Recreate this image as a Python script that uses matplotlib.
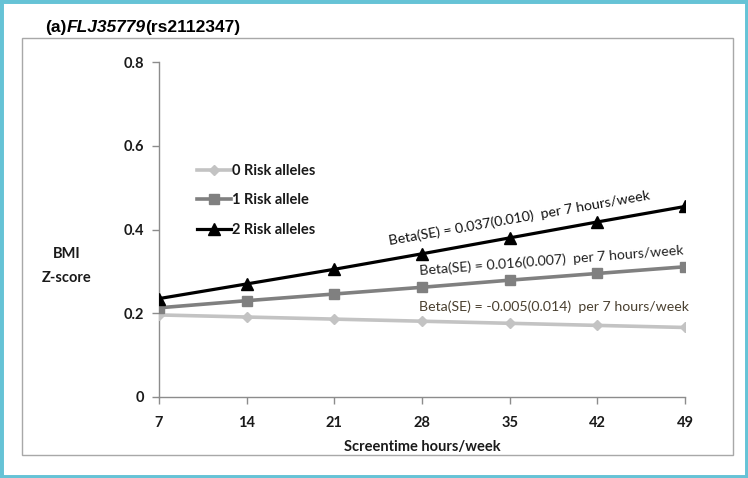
import numpy as np
import matplotlib
matplotlib.use("Agg")
import matplotlib.pyplot as plt
from matplotlib.patches import Rectangle

hours = [7, 14, 21, 28, 35, 42, 49]
risk0 = [0.196, 0.191, 0.186, 0.181, 0.176, 0.171, 0.166]
risk1 = [0.213, 0.230, 0.246, 0.262, 0.279, 0.295, 0.311]
risk2 = [0.235, 0.270, 0.305, 0.342, 0.380, 0.418, 0.455]
labels = ["0 Risk alleles", "1 Risk allele", "2 Risk alleles"]
yticks = [0, 0.2, 0.4, 0.6, 0.8]
ytick_labels = ["0", "0.2", "0.4", "0.6", "0.8"]
notes = ["Beta(SE) = 0.037(0.010)  per 7 hours/week",
         "Beta(SE) = 0.016(0.007)  per 7 hours/week",
         "Beta(SE) = -0.005(0.014)  per 7 hours/week"]

plt.rcParams['font.family'] = ['Lato', 'DejaVu Sans']

W, H = 748, 478
fig = plt.figure(figsize=(W / 100, H / 100), dpi=100)
ax = fig.add_axes([159 / W, 1 - 397 / H, (685 - 159) / W, (397 - 62) / H])

ax.plot(hours, risk0, color='#c3c3c3', lw=2.6, marker='D', ms=5.5, label=labels[0], zorder=3)
ax.plot(hours, risk1, color='#808080', lw=2.6, marker='s', ms=7.5, label=labels[1], zorder=4)
ax.plot(hours, risk2, color='#000000', lw=2.3, marker='^', ms=8, label=labels[2], zorder=5)

ax.set_xlim(7, 49)
ax.set_ylim(0, 0.8)
ax.set_xticks(hours)
ax.set_xticklabels([str(h) for h in hours])
ax.set_yticks(yticks)
ax.set_yticklabels(ytick_labels)
for s in ['top', 'right']:
    ax.spines[s].set_visible(False)
for s in ['left', 'bottom']:
    ax.spines[s].set_color('#8c8c8c')
    ax.spines[s].set_linewidth(1.0)
ax.tick_params(axis='both', colors='#8c8c8c', length=5, width=1.0,
               labelcolor='#1a1a1a', labelsize=10.5)
for t in ax.get_xticklabels() + ax.get_yticklabels():
    t.set_fontweight('bold')
ax.tick_params(axis='x', pad=9)
ax.tick_params(axis='y', pad=6)
ax.set_xlabel("Screentime hours/week", fontsize=10.5, fontweight='bold',
              color='#1a1a1a', labelpad=7)

fig.text(67 / W, 1 - 266 / H, "BMI\nZ-score", ha='center', va='center',
         fontsize=10.5, fontweight='bold', color='#1a1a1a', linespacing=1.9)

leg = ax.legend(loc='upper left', bbox_to_anchor=((197 - 159) / 526, (397 - 164) / 335),
                frameon=False, fontsize=10.5, handlelength=2.3, handletextpad=0.1,
                labelspacing=1.05, borderpad=0, borderaxespad=0)
for t in leg.get_texts():
    t.set_fontweight('bold')
    t.set_color('#1a1a1a')

def angle_of(ys):
    return np.degrees(np.arctan2(ys[-1] - ys[0], hours[-1] - hours[0]))

fs_note = 10.2
ax.text(25.4, 0.362, notes[0], rotation=angle_of(risk2), transform_rotates_text=True,
        rotation_mode='anchor', ha='left', va='baseline', fontsize=fs_note, color='#111111')
ax.text(27.8, 0.291, notes[1], rotation=angle_of(risk1), transform_rotates_text=True,
        rotation_mode='anchor', ha='left', va='baseline', fontsize=fs_note, color='#222222')
ax.text(27.8, 0.205, notes[2], rotation=0,
        rotation_mode='anchor', ha='left', va='baseline', fontsize=fs_note, color='#4a4030')

# title pieces
tfam = ['Liberation Sans', 'DejaVu Sans']
tfs = 12.5
t1 = fig.text(45 / W, 1 - 32 / H, "(a)", fontsize=tfs, fontweight='bold', va='baseline',
              family=tfam)
t2 = ax.annotate("FLJ35779", xy=(1, 0), xycoords=t1, va='bottom', fontsize=tfs,
                 fontweight='bold', fontstyle='italic', annotation_clip=False, family=tfam)
t3 = ax.annotate("(rs2112347)", xy=(1, 0), xycoords=t2, va='bottom', fontsize=tfs,
                 fontweight='bold', annotation_clip=False, family=tfam)

fig.patches.append(Rectangle((22 / W, 1 - 455 / H), (733 - 22) / W, (455 - 38) / H,
                             transform=fig.transFigure, fill=False, edgecolor='#a8a8a8', lw=1.0))
fig.patches.append(Rectangle((0, 0), 1, 1, transform=fig.transFigure, fill=False,
                             edgecolor='#66c3d6', lw=5))

fig.savefig("out.png", dpi=100)
